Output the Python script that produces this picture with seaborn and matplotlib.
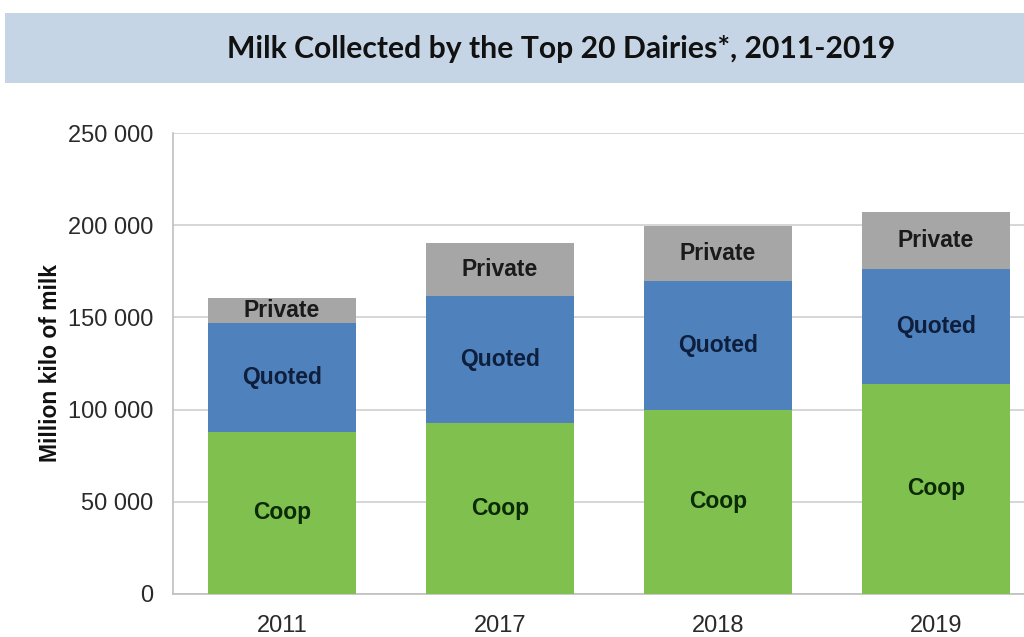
import matplotlib
matplotlib.use("Agg")
import matplotlib.pyplot as plt
import seaborn as sns
import numpy as np
import pandas as pd
from matplotlib.patches import Rectangle
from matplotlib.ticker import FuncFormatter, FixedLocator

years = ["2011", "2017", "2018", "2019"]
coop = [88000, 93000, 100000, 114000]
quoted = [59000, 68500, 70000, 62000]
private = [13500, 29000, 29500, 31000]
segments = ["Coop", "Quoted", "Private"]
colors = {"Coop": "#7fc04e", "Quoted": "#4f81bd", "Private": "#a6a6a6"}
text_colors = {"Coop": "#0b2a06", "Quoted": "#0e1f3d", "Private": "#1a1a1a"}

sns.set_theme(style="white")
plt.rcParams['font.family'] = ['Liberation Sans', 'DejaVu Sans']

fig = plt.figure(figsize=(10.24, 6.37), dpi=100)
fig.patch.set_facecolor("white")

# title band
fig.patches.append(Rectangle((5/1024, 1-83/637), 1-5/1024, 70/637,
                             transform=fig.transFigure, facecolor="#c6d5e5",
                             edgecolor="none", zorder=0))
fig.text(561/1024, 1-49/637, "Milk Collected by the Top 20 Dairies*, 2011-2019",
         ha="center", va="center", fontsize=21.7, fontweight="bold",
         family=["Lato", "DejaVu Sans"], color="#111111")

ax = fig.add_axes([173/1024, 1-594/637, (1045-173)/1024, (594-133)/637])

df = pd.DataFrame({"year": years, "Coop": coop, "Quoted": quoted, "Private": private})
df["c1"] = df["Coop"]
df["c2"] = df["Coop"] + df["Quoted"]
df["c3"] = df["c2"] + df["Private"]

for col, seg in [("c3", "Private"), ("c2", "Quoted"), ("c1", "Coop")]:
    sns.barplot(data=df, x="year", y=col, color=colors[seg], saturation=1,
                width=0.675, ax=ax, edgecolor="none", zorder=3)

# segment labels
for i, row in df.iterrows():
    bottoms = [0, row["c1"], row["c2"]]
    tops = [row["c1"], row["c2"], row["c3"]]
    for seg, b, t in zip(segments, bottoms, tops):
        ax.text(i, (b + t) / 2, seg, ha="center", va="center", fontsize=16.5,
                fontweight="bold", color=text_colors[seg], zorder=5)

ax.set_xlim(-0.5, 3.5)
ax.set_ylim(0, 250000)
ax.yaxis.set_major_locator(FixedLocator(np.arange(0, 250001, 50000)))
ax.yaxis.set_major_formatter(FuncFormatter(lambda v, p: f"{int(v):,}".replace(",", " ")))
ax.grid(axis="y", color="#cfcfcf", linewidth=1.2, zorder=0)
ax.set_axisbelow(True)

for s in ["top", "right"]:
    ax.spines[s].set_visible(False)
ax.spines["left"].set_color("#bfbfbf")
ax.spines["left"].set_linewidth(1.2)
ax.spines["bottom"].set_color("#bfbfbf")
ax.spines["bottom"].set_linewidth(1.2)

ax.tick_params(axis="y", which="major", length=6, color="#bfbfbf", width=1.2,
               labelsize=17, labelcolor="#2a2a2a", pad=8)
ax.tick_params(axis="x", which="major", length=0, labelsize=17,
               labelcolor="#2a2a2a", pad=15)
ax.set_xticks([0.5, 1.5, 2.5], minor=True)
ax.tick_params(axis="x", which="minor", length=6, color="#bfbfbf", width=1.2)

ax.set_xlabel("")
ax.set_ylabel("Million kilo of milk", fontsize=16.5, fontweight="bold",
              color="#111111", labelpad=4.5)

fig.savefig("out.png", dpi=100)
